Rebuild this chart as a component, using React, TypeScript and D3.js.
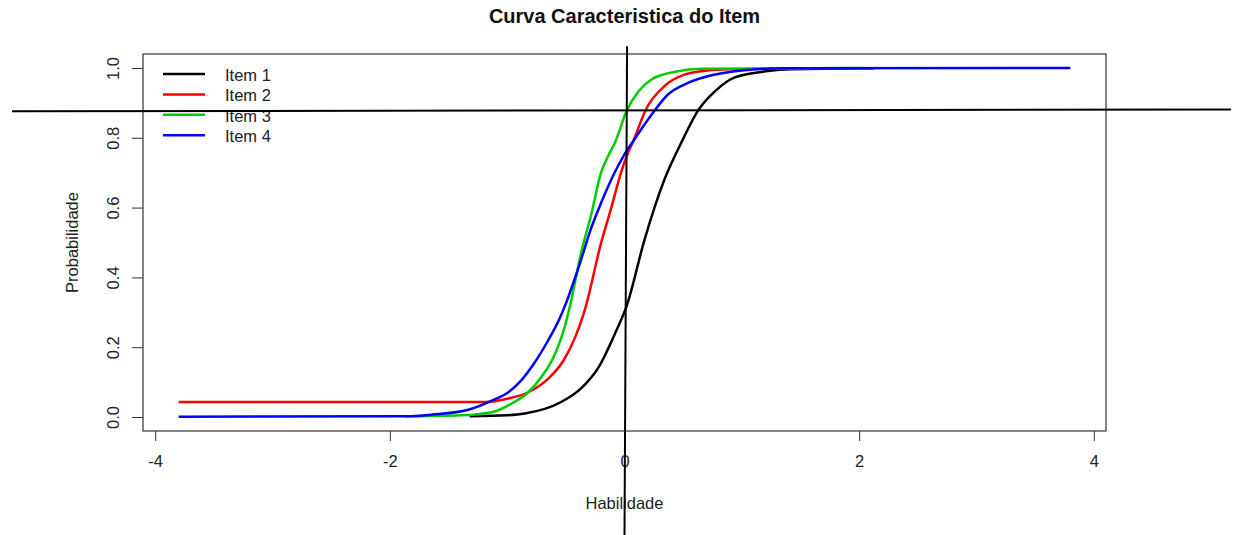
import React, {useEffect, useRef} from 'react';
import * as d3 from 'd3';

// values (theta, probability)
const itemNames = ['Item 1', 'Item 2', 'Item 3', 'Item 4'];
const itemColors = ['#000000', '#ff0000', '#00cd00', '#0000ff'];

const theta1 = [-1.32, -1.0, -0.85, -0.54, -0.37, -0.22, -0.08, 0.02, 0.17, 0.34, 0.49, 0.63, 0.77, 0.94, 1.22, 1.42, 2.13];
const prob1 = [0.002, 0.005, 0.010, 0.043, 0.082, 0.143, 0.24, 0.32, 0.507, 0.68, 0.79, 0.88, 0.933, 0.973, 0.991, 0.996, 0.999];

const theta2 = [-3.8, -1.19, -0.99, -0.82, -0.65, -0.52, -0.42, -0.34, -0.20, -0.11, -0.04, 0.03, 0.07, 0.19, 0.34, 0.51, 0.71, 0.88, 1.6];
const prob2 = [0.043, 0.043, 0.053, 0.071, 0.11, 0.162, 0.229, 0.305, 0.498, 0.603, 0.689, 0.757, 0.787, 0.886, 0.948, 0.981, 0.993, 0.996, 0.999];

const theta3 = [-1.87, -1.4, -1.13, -0.96, -0.82, -0.71, -0.59, -0.51, -0.46, -0.37, -0.28, -0.20, -0.14, -0.08, 0.017, 0.12, 0.23, 0.43, 0.66, 2.03];
const prob3 = [0.002, 0.005, 0.014, 0.039, 0.071, 0.114, 0.182, 0.258, 0.325, 0.47, 0.585, 0.70, 0.747, 0.787, 0.876, 0.933, 0.967, 0.989, 0.998, 1.0];

const theta4 = [-3.8, -1.87, -1.64, -1.33, -1.13, -0.99, -0.88, -0.77, -0.65, -0.56, -0.50, -0.39, -0.28, -0.20, -0.085, -0.01, 0.07, 0.23, 0.37, 0.54, 0.74, 1.0, 1.36, 3.8];
const prob4 = [0.001, 0.002, 0.007, 0.021, 0.047, 0.071, 0.105, 0.154, 0.22, 0.277, 0.325, 0.43, 0.545, 0.613, 0.70, 0.747, 0.788, 0.866, 0.924, 0.957, 0.979, 0.993, 0.999, 1.0];

// hand drawn reference lines (they run outside the plot box)
const hLineTheta = [-5.22, 5.17];
const hLineProb = [0.876, 0.881];
const vLineTheta = [0.022, 0.0];
const vLineProb = [1.062, -0.34];

const xTicks = [-4, -2, 0, 2, 4];
const yTicks = [0, 0.2, 0.4, 0.6, 0.8, 1.0];

const W = 1235;
const H = 535;
const FONT = '"Liberation Sans", Arial, sans-serif';
const FS = 16.5;

export default function App() {
  const ref = useRef<SVGSVGElement>(null);

  useEffect(() => {
    const svg = d3.select(ref.current);
    svg.selectAll('*').remove();

    const left = 143;
    const right = 1106;
    const top = 54;
    const bottom = 431;

    // R style 4% padding around the data range
    const x = d3.scaleLinear().domain([-4.104, 4.104]).range([left, right]);
    const y = d3.scaleLinear().domain([-0.04, 1.04]).range([bottom, top]);

    const line = d3.line<[number, number]>()
        .x((d) => x(d[0]))
        .y((d) => y(d[1]))
        .curve(d3.curveMonotoneX);

    const series = [
      d3.zip(theta1, prob1),
      d3.zip(theta2, prob2),
      d3.zip(theta3, prob3),
      d3.zip(theta4, prob4),
    ] as [number, number][][];

    series.forEach((s, i) => {
      svg.append('path')
          .attr('d', line(s))
          .attr('fill', 'none')
          .attr('stroke', itemColors[i])
          .attr('stroke-width', 2.5);
    });

    // box
    svg.append('rect')
        .attr('x', left)
        .attr('y', top)
        .attr('width', right - left)
        .attr('height', bottom - top)
        .attr('fill', 'none')
        .attr('stroke', '#333')
        .attr('stroke-width', 1.2);

    // x axis
    const xAxis = svg.append('g')
        .attr('transform', `translate(0,${bottom})`)
        .call(d3.axisBottom(x).tickValues(xTicks).tickSizeInner(10)
            .tickSizeOuter(0).tickPadding(14)
            .tickFormat((d) => String(d)));
    xAxis.select('.domain').remove();
    xAxis.selectAll('line').attr('stroke', '#333');
    xAxis.selectAll('text')
        .attr('font-family', FONT)
        .attr('font-size', FS)
        .attr('fill', '#222');

    // y axis
    const yAxis = svg.append('g')
        .attr('transform', `translate(${left},0)`)
        .call(d3.axisLeft(y).tickValues(yTicks).tickSizeInner(11)
            .tickSizeOuter(0).tickFormat(d3.format('.1f')));
    yAxis.select('.domain').remove();
    yAxis.selectAll('line').attr('stroke', '#333');
    yAxis.selectAll('text')
        .attr('font-family', FONT)
        .attr('font-size', FS)
        .attr('fill', '#222')
        .attr('x', null)
        .attr('dy', null)
        .attr('text-anchor', 'middle')
        .attr('dominant-baseline', 'central')
        .attr('transform', 'translate(-30,0) rotate(-90)');

    // titles
    svg.append('text')
        .attr('x', (left + right) / 2)
        .attr('y', 23)
        .attr('text-anchor', 'middle')
        .attr('font-family', FONT)
        .attr('font-weight', 'bold')
        .attr('font-size', 20)
        .attr('fill', '#111')
        .text('Curva Caracteristica do Item');

    svg.append('text')
        .attr('x', (left + right) / 2)
        .attr('y', 509)
        .attr('text-anchor', 'middle')
        .attr('font-family', FONT)
        .attr('font-size', FS)
        .attr('fill', '#222')
        .text('Habilidade');

    svg.append('text')
        .attr('transform', `translate(78,${(top + bottom) / 2}) rotate(-90)`)
        .attr('text-anchor', 'middle')
        .attr('font-family', FONT)
        .attr('font-size', FS)
        .attr('fill', '#222')
        .text('Probabilidade');

    // legend, no border
    const legend = svg.append('g');
    itemNames.forEach((name, i) => {
      const ly = 74 + i * 20.4;
      legend.append('line')
          .attr('x1', 163).attr('x2', 205)
          .attr('y1', ly).attr('y2', ly)
          .attr('stroke', itemColors[i])
          .attr('stroke-width', 2.5);
      legend.append('text')
          .attr('x', 225)
          .attr('y', ly + 1)
          .attr('dominant-baseline', 'central')
          .attr('font-family', FONT)
          .attr('font-size', FS)
          .attr('fill', '#222')
          .text(name);
    });

    // reference lines
    const straight = d3.line<[number, number]>()
        .x((d) => x(d[0]))
        .y((d) => y(d[1]));
    [d3.zip(hLineTheta, hLineProb), d3.zip(vLineTheta, vLineProb)]
        .forEach((s) => {
          svg.append('path')
              .attr('d', straight(s as [number, number][]))
              .attr('fill', 'none')
              .attr('stroke', '#000')
              .attr('stroke-width', 2);
        });
  }, []);

  return (
    <svg ref={ref} width={W} height={H}
      style={{position: 'absolute', left: 0, top: 0, background: '#fff'}} />
  );
}
